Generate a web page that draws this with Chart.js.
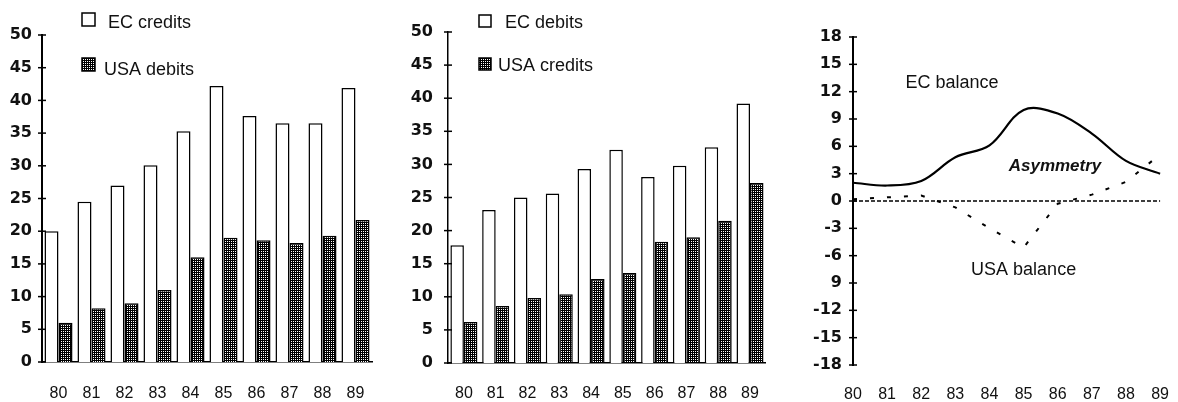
<!DOCTYPE html>
<html>
<head>
<meta charset="utf-8">
<title>EC / USA credits, debits and balances</title>
<script src="https://cdn.jsdelivr.net/npm/chart.js@4"></script>
<style>
    html, body { margin: 0; padding: 0; background: #fff; }
    #wrap { position: relative; width: 1178px; height: 402px; overflow: hidden; }
    .panel { position: absolute; top: 0; }
</style>
</head>
<body>
<div id="wrap">
    <canvas id="c1" class="panel" style="left:0" width="390" height="402"></canvas>
    <canvas id="c2" class="panel" style="left:390px" width="390" height="402"></canvas>
    <canvas id="c3" class="panel" style="left:780px" width="409" height="402"></canvas>
</div>
<script>
// data
var years = ['80', '81', '82', '83', '84', '85', '86', '87', '88', '89'];

var ecCredits  = [20.0, 24.5, 27.0, 30.1, 35.3, 42.2, 37.6, 36.5, 36.5, 41.9];
var usaDebits  = [6.0, 8.2, 9.0, 11.0, 16.0, 19.0, 18.6, 18.2, 19.3, 21.7];

var ecDebits   = [17.8, 23.1, 25.0, 25.6, 29.3, 32.2, 28.1, 29.8, 32.6, 39.2];
var usaCredits = [6.2, 8.6, 9.8, 10.4, 12.7, 13.6, 18.3, 19.0, 21.5, 27.2];

var ecBalance  = [2.0, 1.7, 2.2, 4.8, 6.1, 10.0, 9.6, 7.4, 4.4, 3.0];
var usaBalance = [0.2, 0.4, 0.6, -0.7, -3.0, -5.1, -0.3, 0.7, 2.1, 5.1];

var barTickLabels = ['0', '5', '10', '15', '20', '25', '30', '35', '40', '45', '50'];
// the original prints "9" where -9 belongs
var balanceTickLabels = ['-18', '-15', '-12', '9', '-6', '-3', '0', '3', '6', '9', '12', '15', '18'];

(function() {
    'use strict';

    var TICK_FONT = { family: 'DejaVu Sans', size: 16, weight: 'bold' };
    var CAT_FONT = { family: 'Liberation Sans', size: 16 };

    // dark stipple used for the USA bars
    function makeStipple() {
        var c = document.createElement('canvas');
        c.width = 4; c.height = 4;
        var g = c.getContext('2d');
        g.fillStyle = '#000';
        g.fillRect(0, 0, 4, 4);
        g.fillStyle = '#fff';
        g.fillRect(1, 1, 1, 1);
        g.fillRect(3, 3, 1, 1);
        g.fillRect(1, 3, 1, 1);
        g.fillRect(3, 1, 1, 1);
        return g.createPattern(c, 'repeat');
    }
    var stipple = makeStipple();

    // crossing ticks, legend boxes, zero line and free text
    var decor = {
        id: 'decor',
        afterDraw: function(chart, args, opts) {
            var ctx = chart.ctx;
            var ys = chart.scales.y, xs = chart.scales.x;
            var area = chart.chartArea;
            ctx.save();

            if (opts.zeroLine) {
                var y0 = ys.getPixelForValue(0);
                ctx.strokeStyle = '#000';
                ctx.lineWidth = 1.5;
                ctx.setLineDash([4, 2]);
                ctx.beginPath();
                ctx.moveTo(area.left, y0);
                ctx.lineTo(area.right, y0);
                ctx.stroke();
                ctx.setLineDash([]);
            }

            ctx.strokeStyle = '#000';
            ctx.lineWidth = 1.5;
            ys.ticks.forEach(function(t) {
                var py = ys.getPixelForValue(t.value);
                ctx.beginPath();
                ctx.moveTo(area.left - 4, py);
                ctx.lineTo(area.left + 4, py);
                ctx.stroke();
            });

            (opts.legend || []).forEach(function(item) {
                ctx.fillStyle = item.fill;
                ctx.fillRect(item.bx, item.by, item.size, item.size);
                ctx.lineWidth = 1.5;
                ctx.strokeStyle = '#000';
                ctx.strokeRect(item.bx, item.by, item.size, item.size);
                ctx.fillStyle = '#111';
                ctx.font = '18px "Liberation Sans"';
                ctx.textAlign = 'left';
                ctx.textBaseline = 'middle';
                ctx.fillText(item.text, item.tx, item.ty);
            });

            (opts.notes || []).forEach(function(n) {
                ctx.fillStyle = '#111';
                ctx.font = n.font;
                ctx.textAlign = 'center';
                ctx.textBaseline = 'middle';
                ctx.fillText(n.text, xs.getPixelForValue(n.at), ys.getPixelForValue(n.value));
            });

            ctx.restore();
        }
    };

    function barChart(id, whiteLabel, whiteData, darkLabel, darkData, geo) {
        var el = document.getElementById(id);
        if (!el) return;
        return new Chart(el, {
            type: 'bar',
            data: {
                labels: years,
                datasets: [
                    { label: whiteLabel, data: whiteData, backgroundColor: '#fff',
                      borderColor: '#000', borderWidth: 1.5 },
                    { label: darkLabel, data: darkData, backgroundColor: stipple,
                      borderColor: '#000', borderWidth: 1.5 }
                ]
            },
            options: {
                responsive: false,
                animation: false,
                layout: { padding: { top: geo.top, right: geo.right, bottom: 0, left: 0 } },
                datasets: { bar: { categoryPercentage: 0.85, barPercentage: 1.0 } },
                plugins: {
                    legend: { display: false },
                    tooltip: { enabled: false },
                    decor: { legend: geo.legend }
                },
                scales: {
                    x: {
                        grid: { display: false, drawTicks: false },
                        border: { display: true, color: '#000', width: 1.5 },
                        ticks: { font: CAT_FONT, color: '#111', padding: geo.catPad,
                                 autoSkip: false, maxRotation: 0 },
                        afterFit: function(s) { s.height = geo.xh; }
                    },
                    y: {
                        min: 0, max: 50,
                        grid: { display: false, drawTicks: false },
                        border: { display: true, color: '#000', width: geo.axisW, dash: geo.axisDash },
                        ticks: {
                            stepSize: 5, font: TICK_FONT, color: '#111', padding: geo.tickPad,
                            callback: function(v) { return barTickLabels[Math.round(v / 5)]; }
                        },
                        afterFit: function(s) { s.width = geo.yw; }
                    }
                }
            },
            plugins: [decor]
        });
    }

    function balanceChart() {
        var el = document.getElementById('c3');
        if (!el) return;
        return new Chart(el, {
            type: 'line',
            data: {
                labels: years,
                datasets: [
                    { label: 'EC balance', data: ecBalance, borderColor: '#000', borderWidth: 2.2,
                      tension: 0.35, pointRadius: 0, fill: false },
                    { label: 'USA balance', data: usaBalance, borderColor: '#000', borderWidth: 2,
                      borderDash: [4, 13], tension: 0, pointRadius: 0, fill: false }
                ]
            },
            options: {
                responsive: false,
                animation: false,
                layout: { padding: { top: 37, right: 18, bottom: 0, left: 0 } },
                plugins: {
                    legend: { display: false },
                    tooltip: { enabled: false },
                    decor: {
                        zeroLine: true,
                        notes: [
                            { text: 'EC balance', at: 2.9, value: 12.9, font: '18px "Liberation Sans"' },
                            { text: 'Asymmetry', at: 5.92, value: 3.8, font: 'italic bold 17px "Liberation Sans"' },
                            { text: 'USA balance', at: 5.0, value: -7.6, font: '18px "Liberation Sans"' }
                        ]
                    }
                },
                scales: {
                    x: {
                        offset: false,
                        grid: { display: false, drawTicks: false },
                        border: { display: false },
                        ticks: { font: CAT_FONT, color: '#111', padding: 20, autoSkip: false, maxRotation: 0 },
                        afterFit: function(s) { s.height = 37; }
                    },
                    y: {
                        min: -18, max: 18,
                        grid: { display: false, drawTicks: false },
                        border: { display: true, color: '#000', width: 2, dash: [14, 3] },
                        ticks: {
                            stepSize: 3, font: TICK_FONT, color: '#111', padding: 11,
                            callback: function(v) { return balanceTickLabels[Math.round((v + 18) / 3)]; }
                        },
                        afterFit: function(s) { s.width = 73; }
                    }
                }
            },
            plugins: [decor]
        });
    }

    function init() {
        if (typeof Chart === 'undefined') {
            console.error('Chart.js not loaded');
            return;
        }
        barChart('c1', 'EC credits', ecCredits, 'USA debits', usaDebits, {
            top: 35, right: 18, xh: 40, yw: 42, tickPad: 10, catPad: 22,
            axisW: 2, axisDash: [],
            legend: [
                { text: 'EC credits', fill: '#fff', bx: 82, by: 13, size: 13, tx: 108, ty: 23 },
                { text: 'USA debits', fill: stipple, bx: 82, by: 58, size: 13, tx: 104, ty: 70 }
            ]
        });
        barChart('c2', 'EC debits', ecDebits, 'USA credits', usaCredits, {
            top: 32, right: 2, xh: 39, yw: 58, tickPad: 15, catPad: 21,
            axisW: 1.5, axisDash: [8, 5],
            legend: [
                { text: 'EC debits', fill: '#fff', bx: 89, by: 15, size: 12, tx: 115, ty: 23 },
                { text: 'USA credits', fill: stipple, bx: 89, by: 58, size: 12, tx: 108, ty: 66 }
            ]
        });
        balanceChart();
    }

    if (document.readyState === 'loading') {
        document.addEventListener('DOMContentLoaded', init);
    } else {
        init();
    }
})();
</script>
</body>
</html>
